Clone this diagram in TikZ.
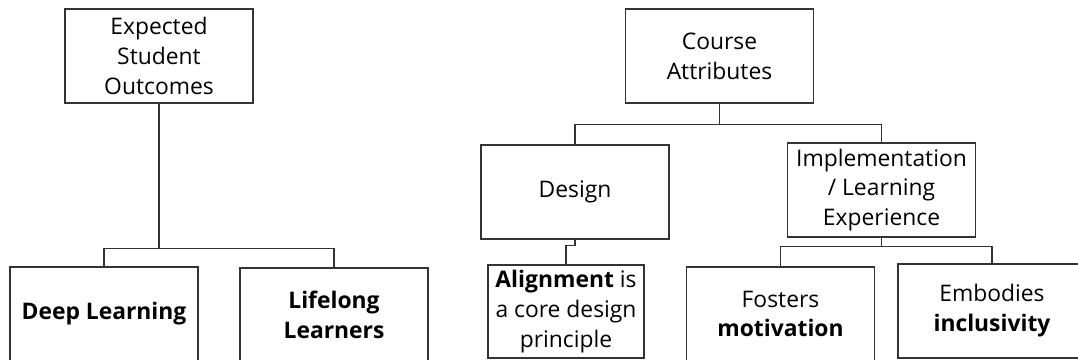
\documentclass[tikz,border=0pt]{standalone}
\usepackage{fontspec}
\setmainfont{Open Sans}
\usepackage{tikz}
\usetikzlibrary{arrows.meta}

\tikzset{
    box/.style={draw=black!80, line width=0.6pt, fill=white, align=center,
        minimum width=3.76cm, minimum height=1.88cm, inner sep=1pt,
        font=\fontsize{13}{17}\selectfont},
    link/.style={draw=black!80, line width=0.6pt}
}

\begin{document}
\begin{tikzpicture}
    \useasboundingbox (0, 0) rectangle (21.56, -7.2);
    \node [box] (eso) at (3.18, -1.12) {Expected\\Student\\Outcomes};
    \node [box] (deep) at (2.08, -6.28) {\textbf{Deep Learning}};
    \node [box] (life) at (6.68, -6.30) {\textbf{Lifelong}\\\textbf{Learners}};
    \node [box] (ca) at (14.39, -1.12) {Course\\Attributes};
    \node [box] (design) at (11.50, -3.84) {Design};
    \node [box] (impl) at (17.63, -3.80) {Implementation\\/ Learning\\Experience};
    \node [box, minimum width=3.12cm, minimum height=1.86cm] (align) at (11.32, -6.23) {\textbf{Alignment} is\\a core design\\principle};
    \node [box] (fost) at (15.61, -6.28) {Fosters\\\textbf{motivation}};
    \node [box] (emb) at (19.84, -6.22) {Embodies\\\textbf{inclusivity}};
    \draw [link] (eso.south) -- ++(0, -2.90) -| (deep.north);
    \draw [link] (eso.south) -- ++(0, -2.90) -| (life.north);
    \draw [link] (ca.south) -- ++(0, -0.42) -| (design.north);
    \draw [link] (ca.south) -- ++(0, -0.42) -| (impl.north);
    \draw [link] (design.south) -- ++(0, -0.12) -| (align.north);
    \draw [link] (impl.south) -- ++(0, -0.18) -| (fost.north);
    \draw [link] (impl.south) -- ++(0, -0.18) -| (emb.north);
\end{tikzpicture}
\end{document}
